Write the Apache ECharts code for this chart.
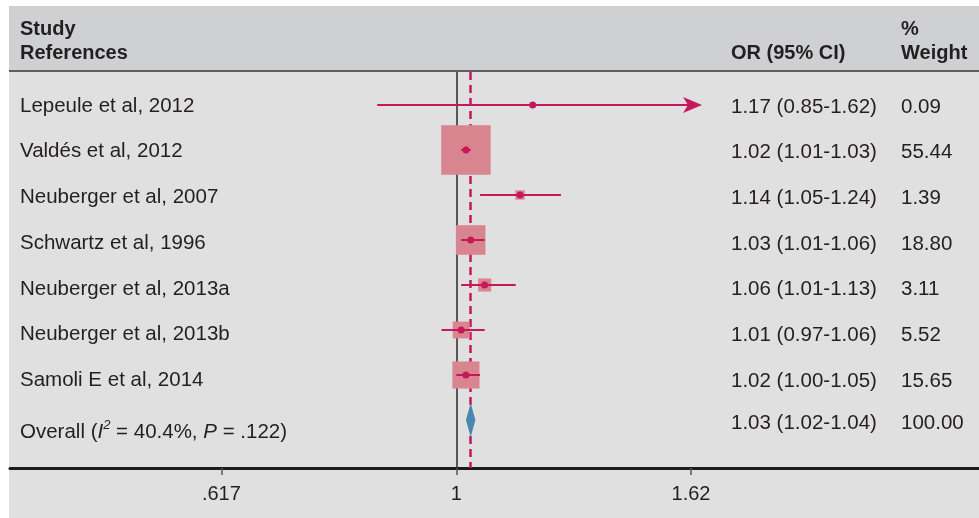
<!DOCTYPE html>
<html>
<head>
<meta charset="utf-8">
<script src="https://cdn.jsdelivr.net/npm/echarts@6/dist/echarts.min.js"></script>
<style>
  html, body { margin: 0; padding: 0; background: #ffffff; }
  #chart { width: 979px; height: 518px; }
</style>
</head>
<body>
<div id="chart"></div>
<script>
// Study-level odds ratios (95% CI) and random-effects weights
const studies = [
  'Lepeule et al, 2012',
  'Valdés et al, 2012',
  'Neuberger et al, 2007',
  'Schwartz et al, 1996',
  'Neuberger et al, 2013a',
  'Neuberger et al, 2013b',
  'Samoli E et al, 2014'
];
const oddsRatio = [1.17, 1.02, 1.14, 1.03, 1.06, 1.01, 1.02];
const ciLower   = [0.85, 1.01, 1.05, 1.01, 1.01, 0.97, 1.00];
const ciUpper   = [1.62, 1.03, 1.24, 1.06, 1.13, 1.06, 1.05];
const weights   = [0.09, 55.44, 1.39, 18.80, 3.11, 5.52, 15.65];

// Pooled estimate: OR, lower, upper
const pooledEstimate = [1.03, 1.02, 1.04];
const pooledWeight = 100.00;
const heterogeneityI2 = '40.4%';
const heterogeneityP = '.122';

// x-axis ticks (log scale)
const tickValues = [0.617, 1, 1.62];
const tickLabels = ['.617', '1', '1.62'];

// ---- styling / layout ----
const FONT = "'Liberation Sans', Arial, Helvetica, sans-serif";
const TEXT = '#231f20';
const RED = '#c6195b';
const SQUARE = '#d98590';
const DIAMOND = '#4a87ae';
const BODY_SIZE = 20.5;
const HEAD_SIZE = 20;
const ROWS = studies.length + 1;           // studies + overall row
const rowIdx = Array.from({ length: ROWS }, (_, i) => i);
// text rows sit a touch lower than the marks and spread slightly wider
const textRow = i => (i < studies.length ? i + 0.044 + 0.0156 * i : i + 0.08);
const nameRow = i => (i < studies.length ? textRow(i) - 0.02 : i + 0.27);

const fmt = v => v.toFixed(2);
const ciText = (o, l, h) => `${fmt(o)} (${fmt(l)}-${fmt(h)})`;
const ciColumn = studies.map((_, i) => ciText(oddsRatio[i], ciLower[i], ciUpper[i]))
  .concat([ciText(pooledEstimate[0], pooledEstimate[1], pooledEstimate[2])]);
const weightColumn = weights.map(fmt).concat([fmt(pooledWeight)]);

const studyData = studies.map((_, i) => [oddsRatio[i], i, ciLower[i], ciUpper[i], weights[i]]);
const pooledData = [[pooledEstimate[0], studies.length, pooledEstimate[1], pooledEstimate[2]]];

function renderStudy(params, api) {
  const k = api.value(1);
  const c = api.coord([api.value(0), k]);
  const lo = api.coord([api.value(2), k]);
  const hi = api.coord([api.value(3), k]);
  const side = 6.4 * Math.sqrt(api.value(4)) + 1.8;
  const children = [
    { type: 'rect', shape: { x: c[0] - side / 2, y: c[1] - side / 2, width: side, height: side },
      style: { fill: SQUARE } },
    { type: 'line', shape: { x1: lo[0], y1: c[1], x2: hi[0], y2: c[1] },
      style: { stroke: RED, lineWidth: 2 } },
    { type: 'circle', shape: { cx: c[0], cy: c[1], r: 3.5 }, style: { fill: RED } }
  ];
  // CI reaching the outer tick is drawn with an arrow head
  if (api.value(3) >= tickValues[tickValues.length - 1]) {
    const x = hi[0], y = c[1];
    children.push({
      type: 'polygon',
      shape: { points: [[x + 11, y], [x - 8, y - 8], [x - 3, y], [x - 8, y + 8]] },
      style: { fill: RED }
    });
  }
  return { type: 'group', children };
}

function renderPooled(params, api) {
  const k = api.value(1);
  const c = api.coord([api.value(0), k]);
  const lo = api.coord([api.value(2), k]);
  const hi = api.coord([api.value(3), k]);
  return {
    type: 'polygon',
    shape: { points: [[lo[0], c[1]], [c[0], c[1] - 17], [hi[0], c[1]], [c[0], c[1] + 17]] },
    style: { fill: DIAMOND }
  };
}

const rowAxisBase = {
  type: 'value',
  inverse: true,
  min: -33 / 45,
  max: 363 / 45,
  position: 'left',
  axisLine: { show: false, onZero: false },
  axisTick: { show: false },
  splitLine: { show: false }
};

const chart = echarts.init(document.getElementById('chart'), null, { renderer: 'canvas' });
chart.setOption({
  backgroundColor: '#ffffff',
  animation: false,
  graphic: [
    { type: 'rect', z: -20, silent: true, shape: { x: 9, y: 6, width: 970, height: 512 }, style: { fill: '#dfe0df' } },
    { type: 'rect', z: -19, silent: true, shape: { x: 9, y: 6, width: 970, height: 64 }, style: { fill: '#cfd0d1' } },
    { type: 'line', z: -18, silent: true, shape: { x1: 9, y1: 71, x2: 979, y2: 71 }, style: { stroke: '#5e5e5e', lineWidth: 2 } },
    { type: 'text', left: 20, top: 19, style: { text: 'Study', font: `bold ${HEAD_SIZE}px ${FONT}`, fill: TEXT } },
    { type: 'text', left: 20, top: 43, style: { text: 'References', font: `bold ${HEAD_SIZE}px ${FONT}`, fill: TEXT } },
    { type: 'text', left: 731, top: 43, style: { text: 'OR (95% CI)', font: `bold ${HEAD_SIZE}px ${FONT}`, fill: TEXT } },
    { type: 'text', left: 901, top: 19, style: { text: '%', font: `bold ${HEAD_SIZE}px ${FONT}`, fill: TEXT } },
    { type: 'text', left: 901, top: 43, style: { text: 'Weight', font: `bold ${HEAD_SIZE}px ${FONT}`, fill: TEXT } }
  ],
  grid: { left: 10, right: 0, top: 72, bottom: 50, containLabel: false },
  xAxis: {
    type: 'log',
    logBase: 1.62,
    min: 0.3996,
    max: 2.928,
    axisLine: { onZero: false, lineStyle: { color: '#1c1c1c', width: 3 } },
    axisTick: { customValues: tickValues, length: 7, lineStyle: { color: '#555555', width: 1.5 } },
    minorTick: { show: false },
    splitLine: { show: false },
    axisLabel: {
      customValues: tickValues,
      margin: 16,
      fontSize: 20,
      fontFamily: FONT,
      color: TEXT,
      formatter: v => {
        let best = 0;
        tickValues.forEach((t, i) => { if (Math.abs(t - v) < Math.abs(tickValues[best] - v)) best = i; });
        return tickLabels[best];
      }
    }
  },
  yAxis: [
    Object.assign({}, rowAxisBase, {
      axisLabel: {
        inside: true, margin: 10, align: 'left',
        customValues: rowIdx.map(nameRow),
        fontSize: BODY_SIZE, fontFamily: FONT, color: TEXT,
        formatter: v => {
          const i = Math.round(v);
          if (i < studies.length) return studies[i];
          return `{n|Overall (}{i|I}{s|2}{n| = ${heterogeneityI2}, }{i|P}{n| = ${heterogeneityP})}`;
        },
        rich: {
          n: { fontSize: BODY_SIZE, fontFamily: FONT, color: TEXT, lineHeight: 26 },
          i: { fontSize: BODY_SIZE, fontFamily: FONT, color: TEXT, fontStyle: 'italic', lineHeight: 26 },
          s: { fontSize: 13, fontFamily: FONT, color: TEXT, fontStyle: 'italic', lineHeight: 14, verticalAlign: 'top' }
        }
      }
    }),
    Object.assign({}, rowAxisBase, {
      offset: -721,
      axisLabel: {
        inside: true, margin: 0, align: 'left',
        customValues: rowIdx.map(textRow),
        fontSize: BODY_SIZE, fontFamily: FONT, color: TEXT,
        formatter: v => ciColumn[Math.round(v)]
      }
    }),
    Object.assign({}, rowAxisBase, {
      offset: -891,
      axisLabel: {
        inside: true, margin: 0, align: 'left',
        customValues: rowIdx.map(textRow),
        fontSize: BODY_SIZE, fontFamily: FONT, color: TEXT,
        formatter: v => weightColumn[Math.round(v)]
      }
    })
  ],
  series: [
    {
      type: 'custom',
      name: 'Studies',
      xAxisIndex: 0,
      yAxisIndex: 0,
      renderItem: renderStudy,
      encode: { x: 0, y: 1 },
      data: studyData,
      clip: false,
      z: 3,
      markLine: {
        silent: true,
        symbol: 'none',
        z: 1,
        label: { show: false },
        data: [
          { xAxis: 1, lineStyle: { color: '#2a2a2a', width: 1.5, type: 'solid' } },
          { xAxis: pooledEstimate[0], lineStyle: { color: RED, width: 2.5, type: [8, 5] } }
        ]
      }
    },
    {
      type: 'custom',
      name: 'Overall',
      xAxisIndex: 0,
      yAxisIndex: 0,
      renderItem: renderPooled,
      encode: { x: 0, y: 1 },
      data: pooledData,
      clip: false,
      z: 4
    }
  ]
});
</script>
</body>
</html>
